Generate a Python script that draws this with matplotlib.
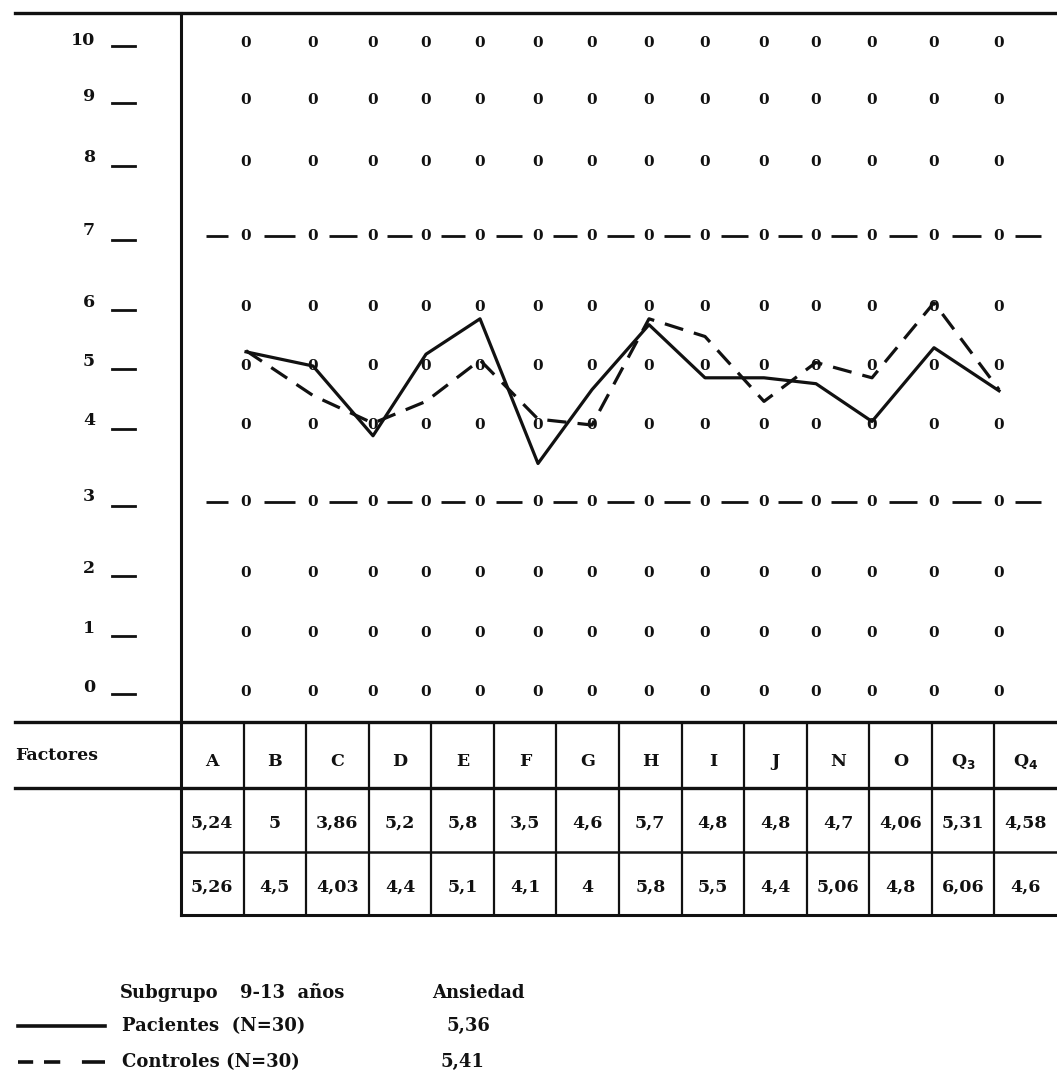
import numpy as np
import matplotlib.pyplot as plt
from matplotlib.lines import Line2D

# datos
factores = ['A', 'B', 'C', 'D', 'E', 'F', 'G', 'H', 'I', 'J', 'N', 'O',
            r'Q$_\mathbf{3}$', r'Q$_\mathbf{4}$']
pacientes = [5.24, 5, 3.86, 5.2, 5.8, 3.5, 4.6, 5.7, 4.8, 4.8, 4.7, 4.06, 5.31, 4.58]
controles = [5.26, 4.5, 4.03, 4.4, 5.1, 4.1, 4, 5.8, 5.5, 4.4, 5.06, 4.8, 6.06, 4.6]
niveles = list(range(11))
niveles_limite = [3, 7]
subgrupo = '9-13  años'
n_pac = 30
n_con = 30
ansiedad_pac = 5.36
ansiedad_con = 5.41

W, H = 1057, 1080
FONT = 'DejaVu Serif'
INK = '#111111'

# escala irregular del original (pixeles del impreso, solo maquetacion)
ESC_X = [0, 65, 132, 192, 245, 299, 357, 411, 468, 524, 583, 635, 691, 753, 818, 876]
ESC_Y = [0, 30, 89, 149, 220, 297, 356, 415, 486, 560, 622, 679, 709]


def fx(px):
    return px / W


def fy(py):
    return 1 - py / H


def coma(v):
    return f'{v:g}'.replace('.', ',')


def escala(anclas, pix):
    anclas = np.asarray(anclas, float)
    pix = np.asarray(pix, float)

    def fwd(v):
        return np.interp(v, anclas, pix)

    def inv(p):
        return np.interp(p, pix, anclas)

    return fwd, inv


fig = plt.figure(figsize=(W / 100, H / 100), dpi=100)
fig.patch.set_facecolor('white')

# ---- zona del grafico ----
ax = fig.add_axes([fx(181), fy(722), fx(1057 - 181), (722 - 13) / H])
x = np.arange(len(factores))
ax.set_xscale('function', functions=escala(np.arange(-1, len(factores) + 1), ESC_X))
ax.set_yscale('function', functions=escala(np.arange(-1, 12), ESC_Y))
ax.set_xlim(-1, len(factores))
ax.set_ylim(-1, 11)
ax.axis('off')

# rejilla de ceros
for lvl in niveles:
    for i in x:
        ax.text(i, lvl, '0', ha='center', va='center', fontsize=11,
                fontweight='bold', family=FONT, color=INK, zorder=2)

# lineas de trazos en los limites 3 y 7
for lvl in niveles_limite:
    starts = np.concatenate(([-0.62], x + 0.27))
    ends = np.concatenate(([-0.27], x + 0.73))
    ax.hlines([lvl] * len(starts), starts, ends, color=INK, lw=2.0)

# perfiles
ax.plot(x, pacientes, color=INK, lw=2.3, zorder=3)
ax.plot(x, controles, color=INK, lw=2.3, ls=(0, (6, 3.5)), zorder=3)

# escala vertical a la izquierda
ytr = ax.get_yaxis_transform()
for lvl in niveles:
    ax.text(-0.098, lvl + 0.07, str(lvl), transform=ytr, ha='right', va='center',
            fontsize=12.5, fontweight='bold', family=FONT, color=INK, clip_on=False)
    ax.plot([-0.079, -0.053], [lvl - 0.05, lvl - 0.05], transform=ytr,
            color=INK, lw=2.0, clip_on=False)

# ---- tabla ----
tab = fig.add_axes([fx(181), fy(915), fx(1057 - 181), (915 - 722) / H])
tab.set_xlim(0, len(factores))
tab.set_ylim(3, 0)
tab.axis('off')
tab.vlines(np.arange(1, len(factores)), 0, 3, color=INK, lw=1.6)

for i, f in enumerate(factores):
    tab.text(i + 0.5, 0.62, f, ha='center', va='center', fontsize=12.5,
             fontweight='bold', family=FONT, color=INK)
    tab.text(i + 0.5, 1.57, coma(pacientes[i]), ha='center', va='center',
             fontsize=12.5, fontweight='bold', family=FONT, color=INK)
    tab.text(i + 0.5, 2.57, coma(controles[i]), ha='center', va='center',
             fontsize=12.5, fontweight='bold', family=FONT, color=INK)

fig.text(fx(15), fy(756), 'Factores', ha='left', va='center', fontsize=12.5,
         fontweight='bold', family=FONT, color=INK)

# ---- marcos ----
reglas = [
    (15, 1057, 13, 13, 2.4),
    (181, 181, 13, 915, 2.2),
    (15, 1057, 722, 722, 2.4),
    (15, 1057, 788, 788, 2.4),
    (181, 1057, 852, 852, 1.8),
    (181, 1057, 915, 915, 2.2),
]
for x0, x1, y0, y1, lw in reglas:
    fig.add_artist(Line2D([fx(x0), fx(x1)], [fy(y0), fy(y1)], color=INK, lw=lw))

# ---- leyenda ----
kw = dict(fontsize=13, fontweight='bold', family=FONT, color=INK, va='center')
fig.text(fx(120), fy(993), 'Subgrupo', ha='left', **kw)
fig.text(fx(240), fy(993), subgrupo, ha='left', **kw)
fig.text(fx(432), fy(993), 'Ansiedad', ha='left', **kw)

fig.add_artist(Line2D([fx(18), fx(105)], [fy(1026), fy(1026)], color=INK, lw=2.6))
fig.text(fx(122), fy(1026), f'Pacientes  (N={n_pac})', ha='left', **kw)
fig.text(fx(446), fy(1026), coma(ansiedad_pac), ha='left', **kw)

fig.add_artist(Line2D([fx(18), fx(105)], [fy(1062), fy(1062)], color=INK, lw=2.6,
                      ls=(0, (4.2, 3.0, 4.5, 6.0, 8.5, 20))))
fig.text(fx(122), fy(1062), f'Controles (N={n_con})', ha='left', **kw)
fig.text(fx(441), fy(1062), coma(ansiedad_con), ha='left', **kw)

fig.savefig('out.png', dpi=100, facecolor='white')
